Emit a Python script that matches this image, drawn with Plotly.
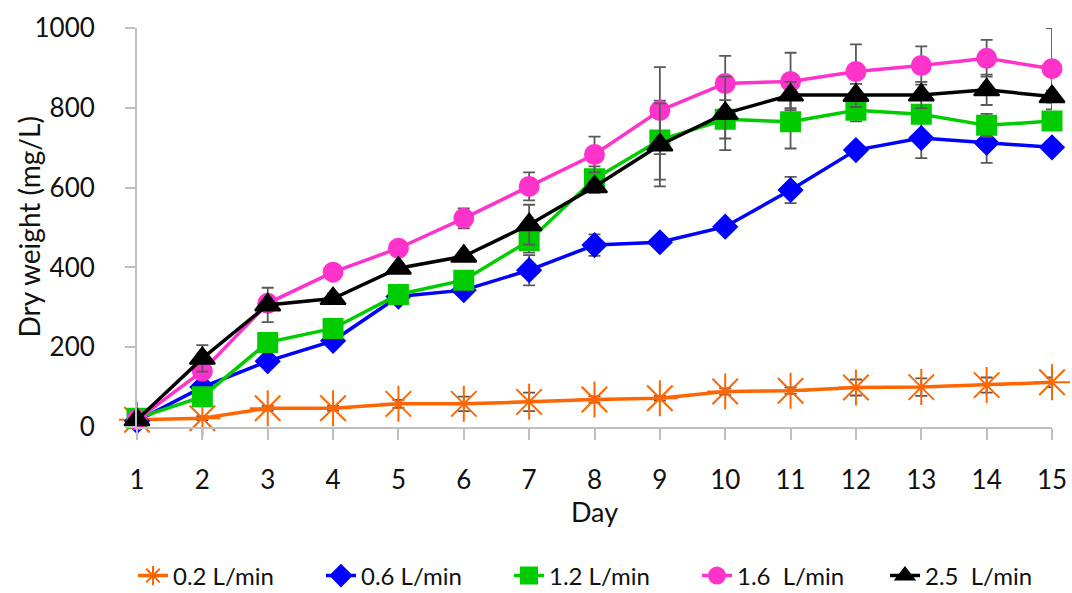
import plotly.graph_objects as go

days = list(range(1, 16))
y_ticks = [0, 200, 400, 600, 800, 1000]

names = ["0.2 L/min", "0.6 L/min", "1.2 L/min", "1.6\u00a0 L/min", "2.5\u00a0 L/min"]

s02 = [18, 22, 47, 47, 58, 58, 63, 69, 72, 89, 91, 99, 100, 105, 112]
s02_err = [3, 5, 6, 6, 10, 18, 23, 8, 6, 8, 8, 20, 22, 19, 12]

s06 = [15, 100, 165, 216, 327, 343, 393, 456, 463, 502, 594, 694, 724, 712, 701]
s06_err = [3, 10, 12, 10, 8, 10, 38, 27, 8, 10, 33, 10, 50, 50, 10]

s12 = [22, 76, 212, 247, 332, 368, 467, 622, 719, 771, 765, 794, 784, 756, 767]
s12_err = [3, 10, 15, 12, 10, 12, 30, 31, 99, 48, 67, 28, 20, 29, 20]

s16 = [18, 140, 310, 388, 448, 523, 603, 683, 793, 861, 866, 891, 906, 924, 898]
s16_err = [3, 10, 15, 10, 10, 25, 35, 45, 109, 69, 72, 68, 48, 46, 102]

s25 = [18, 172, 306, 322, 398, 428, 507, 602, 707, 786, 832, 831, 832, 845, 828]
s25_err = [3, 33, 43, 12, 10, 10, 50, 15, 104, 92, 33, 29, 33, 38, 15]

series = [s02, s06, s12, s16, s25]
errors = [s02_err, s06_err, s12_err, s16_err, s25_err]
colors = ["#FF6600", "#0000FF", "#00CC00", "#FF33CC", "#000000"]
symbols = ["asterisk-open", "diamond", "square", "circle", "triangle-up"]
sizes = [30, 18, 19, 19, 22]

FONT = "Lato"

fig = go.Figure()
for name, ys, err, c, sym, sz in zip(names, series, errors, colors, symbols, sizes):
    fig.add_trace(go.Scatter(
        x=days, y=ys, name=name, mode="lines+markers",
        line=dict(color=c, width=3.5),
        marker=dict(symbol=sym, size=sz, color=c, line=dict(color=c, width=2)),
        error_y=dict(type="data", array=err, color="#595959", thickness=1.8, width=6),
        cliponaxis=False,
    ))

fig.update_layout(
    width=1072, height=593,
    margin=dict(l=137, r=20, t=28, b=166, autoexpand=False),
    paper_bgcolor="white", plot_bgcolor="white",
    font=dict(family=FONT, size=26, color="#111111"),
    showlegend=True,
    legend=dict(orientation="h", x=-0.0044, xanchor="left", y=-0.3734, yanchor="middle",
                font=dict(size=24), itemwidth=30, entrywidth=143, traceorder="normal"),
    annotations=[dict(text="Dry weight (mg/L)", xref="paper", yref="paper",
                      x=(28 - 137) / 915, y=0.5, xanchor="center", yanchor="middle",
                      textangle=-90, showarrow=False, font=dict(size=28))],
)
fig.update_xaxes(
    range=[1, 15], tickmode="array", tickvals=days, ticktext=[str(d) for d in days],
    ticks="outside", ticklen=11, tickwidth=2, tickcolor="#BFBFBF",
    showline=True, linecolor="#BFBFBF", linewidth=2,
    showgrid=False, zeroline=False, ticklabelstandoff=18,
    title=dict(text="Day", standoff=8, font=dict(size=27)),
)
fig.update_yaxes(
    range=[0, 1000], tickmode="array", tickvals=y_ticks,
    ticks="outside", ticklen=10, tickwidth=2, tickcolor="#BFBFBF",
    showline=True, linecolor="#BFBFBF", linewidth=2,
    showgrid=False, zeroline=False, ticklabelstandoff=25,
)

fig.write_html("out.html")
